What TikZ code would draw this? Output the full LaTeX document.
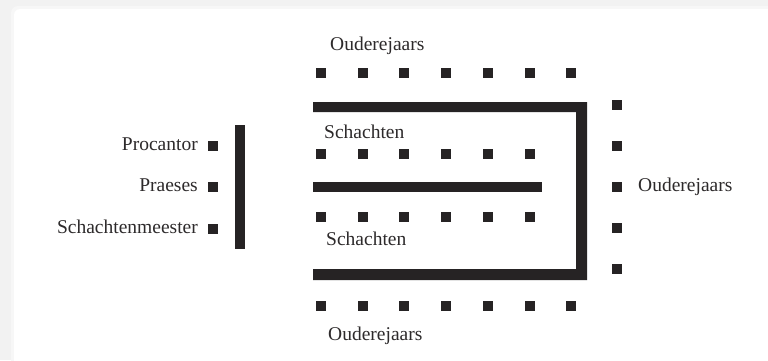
\documentclass[tikz,border=0pt]{standalone}
\usepackage{fontspec}
\setmainfont{Liberation Serif}
\definecolor{ink}{RGB}{38,35,36}
\definecolor{txt}{RGB}{45,42,43}
\definecolor{bggray}{RGB}{242,242,242}
\tikzset{
  seat/.style={fill=ink, draw=none, minimum size=10pt, inner sep=0pt, outer sep=0pt},
  lbl/.style={text=txt, font=\fontsize{19.5}{22}\selectfont, inner sep=0pt},
  wall/.style={fill=ink, draw=none}
}
\begin{document}
\begin{tikzpicture}[x=1pt,y=-1pt]
\useasboundingbox (0,0) rectangle (768,360);
% background and card
\fill[bggray] (0,0) rectangle (768,360);
\fill[white!97!black,rounded corners=7pt] (11,6) rectangle (800,400);
\fill[white,rounded corners=6pt] (14,9) rectangle (800,400);
% walls
\fill[wall] (313,102) -- (587,102) -- (587,280) -- (313,280) -- (313,269) -- (576,269) -- (576,112) -- (313,112) -- cycle;
\fill[wall] (313,182) rectangle (542,192);
\fill[wall] (235,125) rectangle (245,249);
% seats
\foreach \i in {0,...,6}{
  \node[seat] (t\i) at ({321+41.7*\i},73) {};
  \node[seat] (b\i) at ({321+41.7*\i},306) {};
}
\foreach \i in {0,...,5}{
  \node[seat] (mu\i) at ({321+41.7*\i},154) {};
  \node[seat] (ml\i) at ({321+41.7*\i},217) {};
}
\foreach \j/\yy in {0/105,1/146,2/187,3/228,4/269}{
  \node[seat] (r\j) at (617,\yy) {};
}
\node[seat] (pc) at (213,146) {};
\node[seat] (pr) at (213,187) {};
\node[seat] (sm) at (213,229) {};
% labels
\node[lbl, anchor=base west] (ltop) at (330,50) {Ouderejaars};
\node[lbl, anchor=base west] (lbot) at (328,340.5) {Ouderejaars};
\node[lbl, anchor=base west] (lright) at (638,191) {Ouderejaars};
\node[lbl, anchor=base west] (lsu) at (324,138) {Schachten};
\node[lbl, anchor=base west] (lsl) at (326,245.5) {Schachten};
\node[lbl, anchor=base east] (lpc) at (198,150.5) {Procantor};
\node[lbl, anchor=base east] (lpr) at (198,191.5) {Praeses};
\node[lbl, anchor=base east] (lsm) at (198,233) {Schachtenmeester};
\end{tikzpicture}
\end{document}
